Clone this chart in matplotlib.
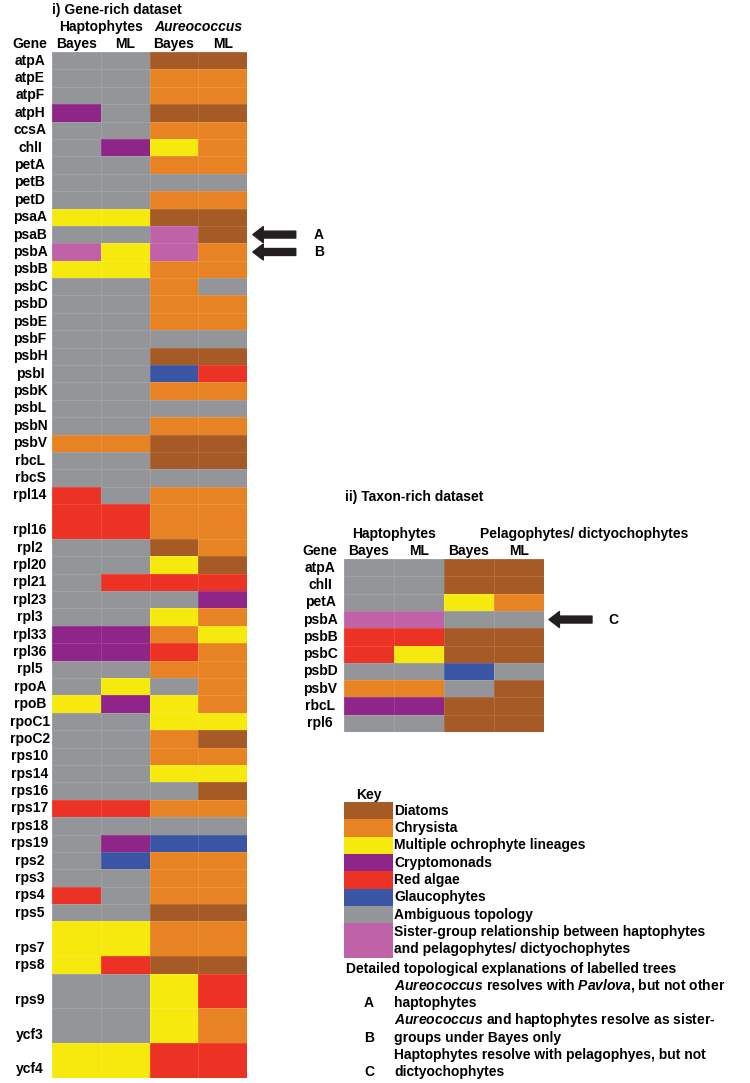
import matplotlib
matplotlib.use("Agg")
import matplotlib.pyplot as plt
from matplotlib.colors import ListedColormap
import matplotlib.transforms as mtransforms
import numpy as np

plt.rcParams['font.family'] = ['Liberation Sans', 'DejaVu Sans']
plt.rcParams['font.weight'] = 'bold'
plt.rcParams['mathtext.fontset'] = 'custom'
plt.rcParams['mathtext.it'] = 'Liberation Sans:italic:bold'
plt.rcParams['mathtext.rm'] = 'Liberation Sans:bold'

# key: code -> (colour, label)
codes = ['Br', 'O', 'Y', 'P', 'R', 'Bl', 'G', 'Pk']
key_colors = ['#a65a25', '#e88323', '#f6e90e', '#8f2489', '#ec3224', '#3b55a5', '#939598', '#c062a8']
key_labels = ['Diatoms', 'Chrysista', 'Multiple ochrophyte lineages', 'Cryptomonads',
              'Red algae', 'Glaucophytes', 'Ambiguous topology',
              'Sister-group relationship between haptophytes\nand pelagophytes/ dictyochophytes']
key_units = [1, 1, 1, 1, 1, 1, 1, 2]

# i) gene-rich dataset
genes_i = ['atpA', 'atpE', 'atpF', 'atpH', 'ccsA', 'chlI', 'petA', 'petB', 'petD', 'psaA',
           'psaB', 'psbA', 'psbB', 'psbC', 'psbD', 'psbE', 'psbF', 'psbH', 'psbI', 'psbK',
           'psbL', 'psbN', 'psbV', 'rbcL', 'rbcS', 'rpl14', 'rpl16', 'rpl2', 'rpl20', 'rpl21',
           'rpl23', 'rpl3', 'rpl33', 'rpl36', 'rpl5', 'rpoA', 'rpoB', 'rpoC1', 'rpoC2', 'rps10',
           'rps14', 'rps16', 'rps17', 'rps18', 'rps19', 'rps2', 'rps3', 'rps4', 'rps5', 'rps7',
           'rps8', 'rps9', 'ycf3', 'ycf4']
units_i = [1] * 26 + [2] + [1] * 22 + [2, 1, 2, 2, 2]
hapto_bayes_i = ['G', 'G', 'G', 'P', 'G', 'G', 'G', 'G', 'G', 'Y',
                 'G', 'Pk', 'Y', 'G', 'G', 'G', 'G', 'G', 'G', 'G',
                 'G', 'G', 'O', 'G', 'G', 'R', 'R', 'G', 'G', 'G',
                 'G', 'G', 'P', 'P', 'G', 'G', 'Y', 'G', 'G', 'G',
                 'G', 'G', 'R', 'G', 'G', 'G', 'G', 'R', 'G', 'Y',
                 'Y', 'G', 'G', 'Y']
hapto_ml_i = ['G', 'G', 'G', 'G', 'G', 'P', 'G', 'G', 'G', 'Y',
              'G', 'Y', 'Y', 'G', 'G', 'G', 'G', 'G', 'G', 'G',
              'G', 'G', 'O', 'G', 'G', 'G', 'R', 'G', 'G', 'R',
              'G', 'G', 'P', 'P', 'G', 'Y', 'P', 'G', 'G', 'G',
              'G', 'G', 'R', 'G', 'P', 'Bl', 'G', 'G', 'G', 'Y',
              'R', 'G', 'G', 'Y']
aureo_bayes_i = ['Br', 'O', 'O', 'Br', 'O', 'Y', 'O', 'G', 'O', 'Br',
                 'Pk', 'Pk', 'O', 'O', 'O', 'O', 'G', 'Br', 'Bl', 'O',
                 'G', 'O', 'Br', 'Br', 'G', 'O', 'O', 'Br', 'Y', 'R',
                 'G', 'Y', 'O', 'R', 'O', 'G', 'Y', 'Y', 'O', 'O',
                 'Y', 'G', 'O', 'G', 'Bl', 'O', 'O', 'O', 'Br', 'O',
                 'Br', 'Y', 'Y', 'R']
aureo_ml_i = ['Br', 'O', 'O', 'Br', 'O', 'O', 'O', 'G', 'O', 'Br',
              'Br', 'O', 'O', 'G', 'O', 'O', 'G', 'Br', 'R', 'O',
              'G', 'O', 'Br', 'Br', 'G', 'O', 'O', 'O', 'Br', 'R',
              'P', 'O', 'Y', 'O', 'O', 'O', 'O', 'Y', 'Br', 'O',
              'Y', 'Br', 'O', 'G', 'Bl', 'O', 'O', 'O', 'Br', 'O',
              'Br', 'R', 'O', 'R']

# ii) taxon-rich dataset
genes_ii = ['atpA', 'chlI', 'petA', 'psbA', 'psbB', 'psbC', 'psbD', 'psbV', 'rbcL', 'rpl6']
units_ii = [1] * 10
hapto_bayes_ii = ['G', 'G', 'G', 'Pk', 'R', 'R', 'G', 'O', 'P', 'G']
hapto_ml_ii = ['G', 'G', 'G', 'Pk', 'R', 'Y', 'G', 'O', 'P', 'G']
pelago_bayes_ii = ['Br', 'Br', 'Y', 'G', 'Br', 'Br', 'Bl', 'G', 'Br', 'Br']
pelago_ml_ii = ['Br', 'Br', 'O', 'G', 'Br', 'Br', 'G', 'Br', 'Br', 'Br']

arrows_i = [('psaB', 'A'), ('psbA', 'B')]
arrows_ii = [('psbA', 'C')]
notes = [('A', r'$\mathit{Aureococcus}$ resolves with $\mathit{Pavlova}$, but not other', 'haptophytes'),
         ('B', r'$\mathit{Aureococcus}$ and haptophytes resolve as sister-', 'groups under Bayes only'),
         ('C', 'Haptophytes resolve with pelagophyes, but not', 'dictyochophytes')]

cmap = ListedColormap(key_colors)
W, H = 750, 1083
FS = 10
ARROW = dict(arrowstyle='simple,head_length=0.75,head_width=1.15,tail_width=0.5',
             mutation_scale=10, color='#231f20', shrinkA=0, shrinkB=0)


def px_axes(fig, x0, y0, x1, y1):
    return fig.add_axes([x0 / W, 1 - y1 / H, (x1 - x0) / W, (y1 - y0) / H])


def draw_table(ax, genes, units, cols, label_x):
    edges_y = np.concatenate([[0], np.cumsum(units)])
    grid = np.array([[codes.index(c[i]) for c in cols] for i in range(len(genes))])
    ax.pcolormesh(np.arange(len(cols) + 1), edges_y, grid, cmap=cmap, vmin=-0.5,
                  vmax=len(codes) - 0.5, edgecolors=(1, 1, 1, 0.12), linewidth=0.6)
    ax.set_xlim(0, len(cols))
    ax.set_ylim(edges_y[-1], 0)
    ax.axis('off')
    trans = mtransforms.blended_transform_factory(ax.transAxes, ax.transData)
    centers = {}
    for g, top, u in zip(genes, edges_y[:-1], units):
        yc = top + u - 0.5
        centers[g] = top + u / 2
        ax.text(label_x, yc, g, transform=trans, ha='center', va='center', fontsize=FS)
    ax.text(label_x, -0.45, 'Gene', transform=trans, ha='center', va='center', fontsize=FS)
    for j, lab in enumerate(['Bayes', 'ML', 'Bayes', 'ML']):
        ax.text(j + 0.5, -0.45, lab, ha='center', va='center', fontsize=FS)
    return centers


def draw_arrow(ax, y, x_head, x_tail, x_lab, lab):
    ax.annotate('', xy=(x_head, y), xytext=(x_tail, y), arrowprops=ARROW,
                annotation_clip=False, clip_on=False)
    ax.text(x_lab, y, lab, ha='center', va='center', fontsize=FS, clip_on=False)


fig = plt.figure(figsize=(7.5, 10.83), dpi=100)

# i) gene-rich
ax1 = px_axes(fig, 52, 52, 247, 1078)
c1 = draw_table(ax1, genes_i, units_i, [hapto_bayes_i, hapto_ml_i, aureo_bayes_i, aureo_ml_i], -0.113)
ax1.text(0.0, -2.42, 'i) Gene-rich dataset', ha='left', va='center', fontsize=FS)
ax1.text(1.0, -1.45, 'Haptophytes', ha='center', va='center', fontsize=FS)
ax1.text(3.0, -1.45, 'Aureococcus', ha='center', va='center', fontsize=FS, style='italic')
for g, lab in arrows_i:
    draw_arrow(ax1, c1[g], 4.12, 5.0, 5.48, lab)

# ii) taxon-rich
ax2 = px_axes(fig, 344, 559, 544, 732)
c2 = draw_table(ax2, genes_ii, units_ii, [hapto_bayes_ii, hapto_ml_ii, pelago_bayes_ii, pelago_ml_ii], -0.12)
ax2.text(0.02, -3.58, 'ii) Taxon-rich dataset', ha='left', va='center', fontsize=FS)
ax2.text(1.0, -1.45, 'Haptophytes', ha='center', va='center', fontsize=FS)
ax2.text(2.72, -1.45, 'Pelagophytes/ dictyochophytes', ha='left', va='center', fontsize=FS)
for g, lab in arrows_ii:
    draw_arrow(ax2, c2[g], 4.1, 4.96, 5.38, lab)

# key
ax3 = px_axes(fig, 344, 802, 393, 958)
ky = np.concatenate([[0], np.cumsum(key_units)])
ax3.pcolormesh([0, 1], ky, np.arange(len(codes)).reshape(-1, 1), cmap=cmap,
               vmin=-0.5, vmax=len(codes) - 0.5)
ax3.set_xlim(0, 1)
ax3.set_ylim(ky[-1], 0)
ax3.axis('off')
ax3.text(0.5, -0.4, 'Key', ha='center', va='center', fontsize=FS)
for lab, top, u in zip(key_labels, ky[:-1], key_units):
    ax3.text(1.03, top + u / 2, lab, ha='left', va='center', fontsize=FS, linespacing=1.25)
ax3.text(0.04, 9.62, 'Detailed topological explanations of labelled trees', ha='left', va='center',
         fontsize=FS, clip_on=False)
for k, (letter, line1, line2) in enumerate(notes):
    y = 10.6 + 2 * k
    ax3.text(1.03, y, line1, ha='left', va='center', fontsize=FS)
    ax3.text(1.03, y + 1, line2, ha='left', va='center', fontsize=FS)
    ax3.text(0.51, y + 1, letter, ha='center', va='center', fontsize=FS)

fig.savefig('out.png', dpi=100)
